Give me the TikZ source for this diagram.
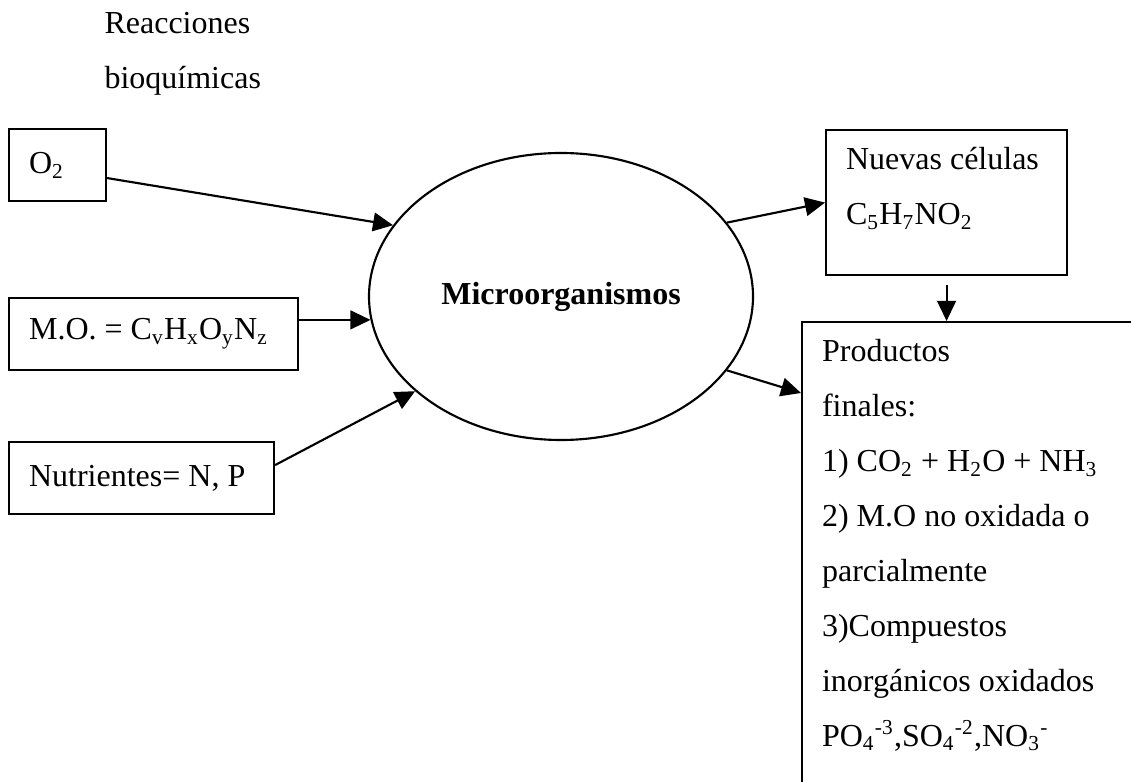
\documentclass[tikz,border=0pt]{standalone}
\usepackage{fontspec}
\setmainfont{Liberation Serif}
\usetikzlibrary{arrows.meta,shapes.geometric}

\begin{document}
\begin{tikzpicture}[x=0.375pt, y=-0.375pt,
	font=\fontsize{12}{20.6}\selectfont,
	box/.style={draw, rectangle, line width=0.8pt, anchor=north west, align=flush left, inner xsep=7.5pt, inner ysep=0.2pt},
	arr/.style={-{Triangle[length=7.5pt,width=7pt]}, line width=0.8pt}]
	% picture setup
	
	\def\pxl{0.375pt}
	
	\useasboundingbox (0,0) rectangle (1131,782);
	\clip (0,0) rectangle (1131,782);
	
	% title
	\node (titulo) [anchor=base west, align=flush left, inner sep=0pt, text width=200*\pxl] at (104,34) {Reacciones\\ bioquímicas};
	
	% inputs
	\node (o2) [box, minimum width=97*\pxl, minimum height=72*\pxl, text width=57*\pxl] at (8,128) {O\textsubscript{2}};
	\node (mo) [box, minimum width=289*\pxl, minimum height=72*\pxl, text width=249*\pxl] at (8,297) {M.O. = C\textsubscript{v}H\textsubscript{x}O\textsubscript{y}N\textsubscript{z}};
	\node (nutr) [box, minimum width=265*\pxl, minimum height=72*\pxl, text width=225*\pxl] at (8,441) {Nutrientes= N, P};
	
	% center
	\node (micro) [ellipse, draw, line width=0.8pt, minimum width=384*\pxl, minimum height=287*\pxl, inner sep=0pt] at (561,296.5) {\textbf{Microorganismos}};
	
	% outputs
	\node (nuevas) [box, text width=201*\pxl, text height=14.6pt, text depth=39.4pt] at (825,129) {Nuevas células\\ C\textsubscript{5}H\textsubscript{7}NO\textsubscript{2}};
	\node (prod) [box, text width=340*\pxl, text height=14.6pt, text depth=180pt] at (801,321) {Productos\\ finales:\\ 1) CO\textsubscript{2} + H\textsubscript{2}O + NH\textsubscript{3}\\ 2) M.O no oxidada o\\ parcialmente\\ 3)Compuestos\\ inorgánicos oxidados\\ PO\textsubscript{4}\textsuperscript{-3},SO\textsubscript{4}\textsuperscript{-2},NO\textsubscript{3}\textsuperscript{-}};
	
	% arrows
	\draw[arr] ([yshift=-13*\pxl]o2.east) -- (micro.157);
	\draw[arr] (mo.east |- micro.187) -- (micro.187);
	\draw[arr] ([yshift=13*\pxl]nutr.east) -- (micro.213);
	\draw[arr] (micro.24) -- (nuevas.west);
	\draw[arr] (micro.-24) -- ([yshift=-72*\pxl]prod.north west);
	\draw[arr, shorten <=9*\pxl] (nuevas.south) -- (nuevas.south |- prod.north);
\end{tikzpicture}
\end{document}
